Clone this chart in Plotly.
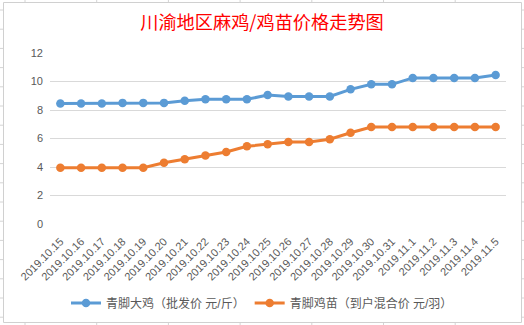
import plotly.graph_objects as go

dates = ["2019.10.15", "2019.10.16", "2019.10.17", "2019.10.18", "2019.10.19", "2019.10.20",
         "2019.10.21", "2019.10.22", "2019.10.23", "2019.10.24", "2019.10.25", "2019.10.26",
         "2019.10.27", "2019.10.28", "2019.10.29", "2019.10.30", "2019.10.31", "2019.11.1",
         "2019.11.2", "2019.11.3", "2019.11.4", "2019.11.5"]
big_chicken = [8.45, 8.45, 8.45, 8.5, 8.5, 8.5, 8.65, 8.75, 8.75, 8.75, 9.05, 8.95,
               8.95, 8.95, 9.45, 9.8, 9.8, 10.25, 10.25, 10.25, 10.25, 10.45]
chick = [3.95, 3.95, 3.95, 3.95, 3.95, 4.3, 4.55, 4.8, 5.05, 5.45, 5.6, 5.75,
         5.75, 5.95, 6.4, 6.8, 6.8, 6.8, 6.8, 6.8, 6.8, 6.8]
name_big = "青脚大鸡（批发价 元/斤）"
name_chick = "青脚鸡苗（到户混合价 元/羽）"
title_text = "川渝地区麻鸡/鸡苗价格走势图"
y_ticks = [0, 2, 4, 6, 8, 10, 12]

W, H = 524, 325
L, R, T, B = 50, 18, 53, 101
PW, PH = W - L - R, H - T - B

def px(x):
    return (x - L) / PW

def py(y):
    return 1 - (y - T) / PH

font_family = "Liberation Sans, Noto Sans CJK SC, sans-serif"

fig = go.Figure()
fig.add_trace(go.Scatter(x=list(range(len(dates))), y=big_chicken, name=name_big,
                         mode="lines+markers", line=dict(color="#5B9BD5", width=3),
                         marker=dict(size=8.5, color="#5B9BD5")))
fig.add_trace(go.Scatter(x=list(range(len(dates))), y=chick, name=name_chick,
                         mode="lines+markers", line=dict(color="#ED7D31", width=3),
                         marker=dict(size=8.5, color="#ED7D31")))

shapes = []
# spreadsheet grid outside the chart
gx = 25.0
while gx < W:
    shapes.append(dict(type="line", xref="paper", yref="paper", x0=px(gx), x1=px(gx),
                       y0=py(0), y1=py(H), line=dict(color="#D4D4D4", width=1), layer="below"))
    gx += 71.7
gy = 10.0
while gy < H:
    shapes.append(dict(type="line", xref="paper", yref="paper", x0=px(0), x1=px(W),
                       y0=py(gy), y1=py(gy), line=dict(color="#D4D4D4", width=1), layer="below"))
    gy += 19.2
# chart area
shapes.append(dict(type="rect", xref="paper", yref="paper", x0=px(3.5), x1=px(521.5),
                   y0=py(2.5), y1=py(322.5), fillcolor="white",
                   line=dict(color="#D0D0D0", width=1), layer="below"))

fig.update_layout(
    width=W, height=H,
    margin=dict(l=L, r=R, t=T, b=B, autoexpand=False),
    paper_bgcolor="white", plot_bgcolor="rgba(0,0,0,0)",
    font=dict(family=font_family, size=11, color="#595959"),
    title=dict(text=title_text, x=0.5, xref="container", xanchor="center",
               y=1 - 23 / H, yref="container", yanchor="middle",
               font=dict(size=18.2, color="#FF0000", family="Noto Sans CJK SC, sans-serif")),
    xaxis=dict(tickmode="array", tickvals=list(range(len(dates))), ticktext=dates,
               range=[-0.5, len(dates) - 0.5], tickangle=-45, showgrid=False,
               zeroline=False, showline=False, ticks="", automargin=False,
               ticklabelstandoff=8,
               tickfont=dict(size=11, color="#595959")),
    yaxis=dict(range=[0, 12], tickvals=y_ticks, showgrid=True, gridcolor="#D9D9D9",
               gridwidth=1, zeroline=False, showline=False, ticks="", automargin=False,
               ticklabelstandoff=6,
               tickfont=dict(size=11, color="#595959")),
    legend=dict(orientation="h", x=0.5, xref="container", xanchor="center",
                y=py(303), yanchor="middle",
                font=dict(size=12, color="#595959", family=font_family),
                bgcolor="rgba(0,0,0,0)"),
    showlegend=True,
    shapes=shapes,
)

fig.write_html("out.html")
